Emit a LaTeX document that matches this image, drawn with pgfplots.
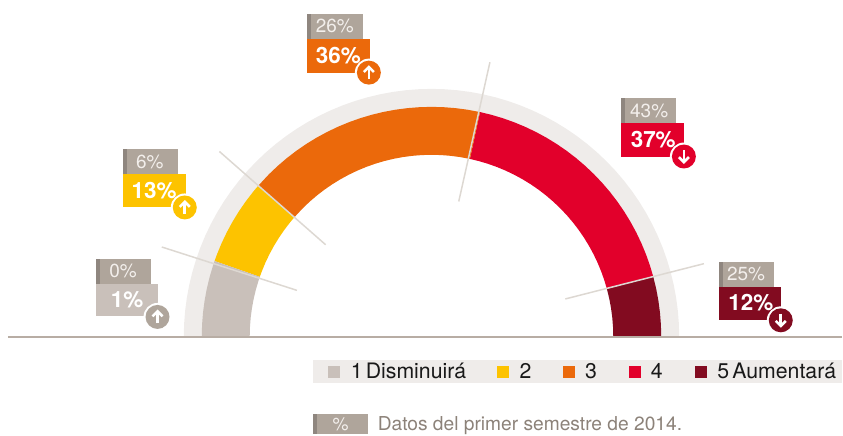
\documentclass[border=0pt]{standalone}
\usepackage{pgfplots}
\pgfplotsset{compat=1.18}
\usepackage{fontspec}
\setmainfont{TeX Gyre Heros}
\definecolor{cgrey}{HTML}{C9C0BA}
\definecolor{cyel}{HTML}{FDC300}
\definecolor{cora}{HTML}{EB690B}
\definecolor{cred}{HTML}{E2002B}
\definecolor{cdark}{HTML}{820B20}
\definecolor{cring}{HTML}{EFECEA}
\definecolor{clab}{HTML}{AFA59B}
\definecolor{cstrip}{HTML}{8F867F}
\definecolor{cbase}{HTML}{B8ADA4}
\definecolor{cline}{HTML}{DDD8D2}
\definecolor{clabtxt}{HTML}{F3EFEC}
\definecolor{cfoot}{HTML}{8C8279}
\newcommand\PP[2]{(axis cs:{#1-432},{337-(#2)})}
\newcommand\boxes[7]{% x1 x2(top) x3(bottom) ytop ymid ybot colour
  \fill[clab] \PP{#1}{#4} rectangle \PP{#2}{#5};
  \fill[cstrip] \PP{#1}{#4} rectangle \PP{#1+4}{#5};
  \fill[#7] \PP{#1}{#5} rectangle \PP{#3}{#6};
}
\newcommand\up[3]{%
  \fill[white] \PP{#1}{#2} circle[radius=14pt];
  \fill[#3] \PP{#1}{#2} circle[radius=12pt];
  \draw[white,line width=2.6pt] \PP{#1}{#2+6.5} -- \PP{#1}{#2-5};
  \draw[white,line width=2.6pt,line join=miter] \PP{#1-5}{#2-0.6} -- \PP{#1}{#2-5.6} -- \PP{#1+5}{#2-0.6};
}
\newcommand\down[3]{%
  \fill[white] \PP{#1}{#2} circle[radius=14pt];
  \fill[#3] \PP{#1}{#2} circle[radius=12pt];
  \draw[white,line width=2.6pt] \PP{#1}{#2-6.5} -- \PP{#1}{#2+5};
  \draw[white,line width=2.6pt,line join=miter] \PP{#1-5}{#2+0.6} -- \PP{#1}{#2+5.6} -- \PP{#1+5}{#2+0.6};
}
\newcommand\lab[4]{\node[anchor=base west,inner sep=0pt,text=#3] at \PP{#1}{#2} {\fontsize{19}{19}\selectfont #4};}
\newcommand\blab[3]{\node[anchor=base west,inner sep=0pt,text=white] at \PP{#1}{#2} {\fontsize{22.5}{23}\selectfont\bfseries #3};}
\newcommand\legt[2]{\node[anchor=base west,inner sep=0pt,text=black!90] at \PP{#1}{379} {\fontsize{21.3}{22}\selectfont #2};}
\begin{document}
\begin{tikzpicture}
\begin{axis}[x=1pt,y=1pt,xmin=-432,xmax=411,ymin=-98,ymax=337,hide axis,clip=false,no markers]
\path \PP{0}{0} rectangle \PP{843}{435};
% background ring
\addplot[draw=none,fill=cring,data cs=polar] coordinates {(0,248)(3,248)(6,248)(9,248)(12,248)(15,248)(18,248)(21,248)(24,248)(27,248)(30,248)(33,248)(36,248)(39,248)(42,248)(45,248)(48,248)(51,248)(54,248)(57,248)(60,248)(63,248)(66,248)(69,248)(72,248)(75,248)(78,248)(81,248)(84,248)(87,248)(90,248)(93,248)(96,248)(99,248)(102,248)(105,248)(108,248)(111,248)(114,248)(117,248)(120,248)(123,248)(126,248)(129,248)(132,248)(135,248)(138,248)(141,248)(144,248)(147,248)(150,248)(153,248)(156,248)(159,248)(162,248)(165,248)(168,248)(171,248)(174,248)(177,248)(180,248)(180,229)(177,229)(174,229)(171,229)(168,229)(165,229)(162,229)(159,229)(156,229)(153,229)(150,229)(147,229)(144,229)(141,229)(138,229)(135,229)(132,229)(129,229)(126,229)(123,229)(120,229)(117,229)(114,229)(111,229)(108,229)(105,229)(102,229)(99,229)(96,229)(93,229)(90,229)(87,229)(84,229)(81,229)(78,229)(75,229)(72,229)(69,229)(66,229)(63,229)(60,229)(57,229)(54,229)(51,229)(48,229)(45,229)(42,229)(39,229)(36,229)(33,229)(30,229)(27,229)(24,229)(21,229)(18,229)(15,229)(12,229)(9,229)(6,229)(3,229)(0,229)} -- cycle;
% segment 5 Aumentara: 0-15.2 deg
\addplot[draw=none,fill=cdark,data cs=polar] coordinates {(0,230)(3,230)(6,230)(9,230)(12,230)(15.2,230)(15.2,182)(12,182)(9,182)(6,182)(3,182)(0,182)} -- cycle;
% segment 4: 15.2-77.8
\addplot[draw=none,fill=cred,data cs=polar] coordinates {(15.2,230)(18,230)(21,230)(24,230)(27,230)(30,230)(33,230)(36,230)(39,230)(42,230)(45,230)(48,230)(51,230)(54,230)(57,230)(60,230)(63,230)(66,230)(69,230)(72,230)(75,230)(77.8,230)(77.8,182)(75,182)(72,182)(69,182)(66,182)(63,182)(60,182)(57,182)(54,182)(51,182)(48,182)(45,182)(42,182)(39,182)(36,182)(33,182)(30,182)(27,182)(24,182)(21,182)(18,182)(15.2,182)} -- cycle;
% segment 3: 77.8-139
\addplot[draw=none,fill=cora,data cs=polar] coordinates {(77.8,230)(81,230)(84,230)(87,230)(90,230)(93,230)(96,230)(99,230)(102,230)(105,230)(108,230)(111,230)(114,230)(117,230)(120,230)(123,230)(126,230)(129,230)(132,230)(135,230)(139,230)(139,182)(135,182)(132,182)(129,182)(126,182)(123,182)(120,182)(117,182)(114,182)(111,182)(108,182)(105,182)(102,182)(99,182)(96,182)(93,182)(90,182)(87,182)(84,182)(81,182)(77.8,182)} -- cycle;
% segment 2: 139-160.8
\addplot[draw=none,fill=cyel,data cs=polar] coordinates {(139,230)(141,230)(144,230)(147,230)(150,230)(153,230)(156,230)(159,230)(160.8,230)(160.8,182)(159,182)(156,182)(153,182)(150,182)(147,182)(144,182)(141,182)(139,182)} -- cycle;
% segment 1: 160.8-180
\addplot[draw=none,fill=cgrey,data cs=polar] coordinates {(160.8,230)(162,230)(165,230)(168,230)(171,230)(174,230)(177,230)(180,230)(180,182)(177,182)(174,182)(171,182)(168,182)(165,182)(162,182)(160.8,182)} -- cycle;
% baseline
\addplot[cbase,line width=2pt] coordinates {(-424,0)(411,0)};
% divider lines
\draw[cline,line width=1.5pt] \PP{162}{247.3} -- \PP{297.3}{290.7};
\draw[cline,line width=1.5pt] \PP{219.7}{151.7} -- \PP{326}{245};
\draw[cline,line width=1.5pt] \PP{490.5}{62.3} -- \PP{459.3}{201.7};
\draw[cline,line width=1.5pt] \PP{704.7}{264} -- \PP{566}{299.3};
% value boxes
\boxes{123}{178}{186}{149}{174}{207.7}{cyel}
\boxes{95.7}{151}{158}{259}{284}{316.7}{cgrey}
\boxes{307.3}{363}{370}{14}{39}{72.7}{cora}
\boxes{622}{677}{685}{98}{123}{157}{cred}
\boxes{719.7}{775}{782}{262.3}{287}{320.7}{cdark}
\lab{136}{168.3}{clabtxt}{6\%}
\blab{131.7}{198.3}{13\%}
\lab{109.3}{277.7}{clabtxt}{0\%}
\blab{110.7}{308.3}{1\%}
\lab{316}{32.7}{clabtxt}{26\%}
\blab{316}{63.3}{36\%}
\lab{630.7}{117.3}{clabtxt}{43\%}
\blab{631.3}{147.3}{37\%}
\lab{727.7}{281.3}{clabtxt}{25\%}
\blab{729}{311}{12\%}
\up{185}{207.7}{cyel}
\up{157.7}{317.3}{clab}
\up{369.3}{72.7}{cora}
\down{684.7}{156.7}{cred}
\down{781.7}{320.7}{cdark}
% legend
\fill[cring] \PP{313}{360} rectangle \PP{843}{383};
\fill[cgrey] \PP{328}{366} rectangle \PP{340}{378};
\fill[cyel] \PP{498}{366} rectangle \PP{510}{378};
\fill[cora] \PP{564}{366} rectangle \PP{576}{378};
\fill[cred] \PP{630}{366} rectangle \PP{642}{378};
\fill[cdark] \PP{696}{366} rectangle \PP{708}{378};
\legt{351}{1\hspace{0.15em}Disminuirá}
\legt{520}{2}
\legt{585.5}{3}
\legt{651.5}{4}
\legt{718}{5\hspace{0.15em}Aumentará}
% footnote
\fill[clab] \PP{313}{414} rectangle \PP{368}{435};
\fill[cstrip] \PP{313}{414} rectangle \PP{317}{435};
\node[anchor=base,inner sep=0pt,text=clabtxt] at \PP{341}{431.5} {\fontsize{18}{18}\selectfont\%};
\node[anchor=base west,inner sep=0pt,text=cfoot] at \PP{378}{431.5} {\fontsize{19.2}{19}\selectfont Datos del primer semestre de 2014.};
\end{axis}
\end{tikzpicture}
\end{document}
